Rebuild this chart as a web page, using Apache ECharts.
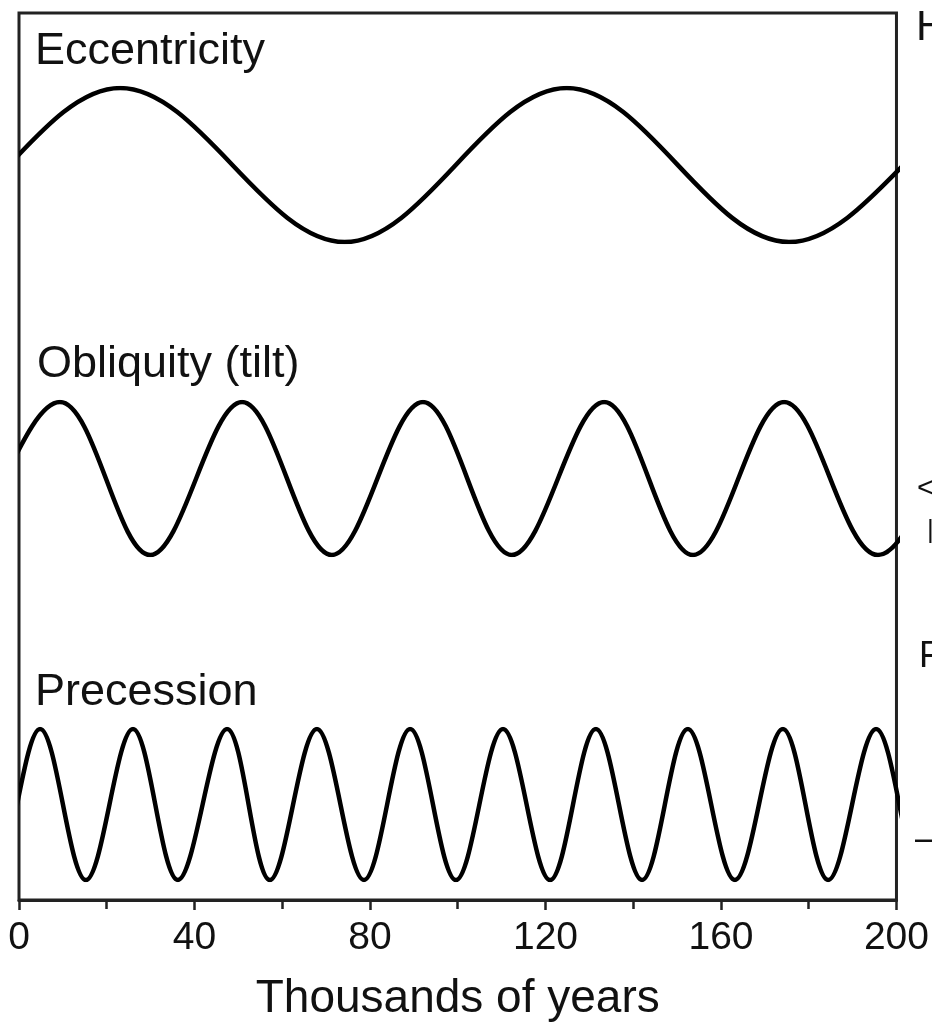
<!DOCTYPE html>
<html lang="en">
<head>
    <meta charset="UTF-8">
    <script src="https://cdn.jsdelivr.net/npm/echarts@6/dist/echarts.min.js"></script>
    <title>Orbital cycles</title>
    <style>
        html, body { margin: 0; padding: 0; background: #fff; }
    </style>
</head>
<body>
<div id="main" style="width: 932px;height:1027px;"></div>
<script type="text/javascript">
        // crests (+1) and troughs (-1), x in thousands of years
        // the outer points lie outside 0..200 and are clipped by the frame
        var eccentricity = [
            [-78, 1], [-27.5, -1], [23, 1], [74, -1], [124.5, 1], [175, -1],
            [227, 1], [277.5, -1]
        ];
        var obliquity = [
            [-36.5, 1], [-16, -1], [9.3, 1], [29.8, -1], [50.7, 1], [71.1, -1],
            [91.8, 1], [112, -1], [133, 1], [153.2, -1], [173.9, 1], [195.2, -1],
            [220, 1], [240, -1]
        ];
        var precession = [
            [-16.2, 1], [-5.7, -1], [4.8, 1], [15.2, -1], [25.9, 1], [36.1, -1],
            [47.3, 1], [57, -1], [67.7, 1], [78.4, -1], [88.9, 1], [99.3, -1],
            [110, 1], [120.7, -1], [131.1, 1], [141.6, -1], [152, 1], [162.7, -1],
            [173.6, 1], [183.9, -1], [194.8, 1], [205.3, -1], [215.8, 1]
        ];
        var xTicks = [0, 40, 80, 120, 160, 200];

        var myChart = echarts.init(document.getElementById('main'));
        var font = '"Liberation Sans", Arial, Helvetica, sans-serif';

        // curve grids sit 2.5px inside the frame so the clip (which echarts
        // widens by half the line width) stops at the frame line
        var pxPerK = 880 / 200;
        var inset = 2.5;
        var kInset = inset / pxPerK;

        function band(top, height) {
            return { left: 19 + inset, right: 33 + inset, top: top, height: height };
        }
        function hiddenX(i) {
            return { type: 'value', gridIndex: i, min: kInset, max: 200 - kInset, show: false };
        }
        function hiddenY(i) {
            return { type: 'value', gridIndex: i, min: -1, max: 1, show: false };
        }
        function curve(i, data) {
            return {
                type: 'line', xAxisIndex: i, yAxisIndex: i, data: data,
                smooth: 0.35, symbol: 'none', silent: true,
                lineStyle: { color: '#000', width: 4.5 }
            };
        }
        function label(txt, x, y, size) {
            return { type: 'text', left: x, top: y,
                     style: { text: txt, font: size + 'px ' + font, fill: '#111' } };
        }

        option = {
            animation: false,
            backgroundColor: '#fff',
            grid: [
                { left: 19, right: 33, top: 13, bottom: 126, show: true,
                  borderColor: '#222', borderWidth: 3, backgroundColor: 'transparent' },
                band(88, 154),
                band(402, 153),
                band(729, 151)
            ],
            xAxis: [
                {
                    type: 'value', gridIndex: 0, min: 0, max: 200, interval: 40,
                    name: 'Thousands of years', nameLocation: 'middle', nameGap: 76,
                    nameTextStyle: { fontFamily: font, fontSize: 46, color: '#111' },
                    axisLine: { lineStyle: { color: '#222', width: 3 } },
                    axisTick: { length: 10, lineStyle: { color: '#222', width: 2.5 } },
                    minorTick: { show: true, splitNumber: 2, length: 9,
                                 lineStyle: { color: '#222', width: 2.5 } },
                    splitLine: { show: false },
                    axisLabel: {
                        margin: 19, fontFamily: font, fontSize: 39, color: '#111',
                        formatter: function (v) { return xTicks.indexOf(v) >= 0 ? String(v) : ''; }
                    }
                },
                hiddenX(1), hiddenX(2), hiddenX(3)
            ],
            yAxis: [
                { type: 'value', gridIndex: 0, min: 0, max: 1, show: false },
                hiddenY(1), hiddenY(2), hiddenY(3)
            ],
            graphic: [
                label('Eccentricity', 35, 29, 45),
                label('Obliquity (tilt)', 37, 342, 45),
                label('Precession', 35, 670, 45),
                // fragments of the neighbouring panel, cut by the page edge
                label('H', 916, 7, 42),
                label('<', 917, 474, 30),
                label('|', 927, 518, 26),
                label('F', 919, 639, 36),
                label('\u2013', 915, 822, 36)
            ],
            series: [
                curve(1, eccentricity),
                curve(2, obliquity),
                curve(3, precession)
            ]
        };

        myChart.setOption(option);
    </script>
</body>
</html>
